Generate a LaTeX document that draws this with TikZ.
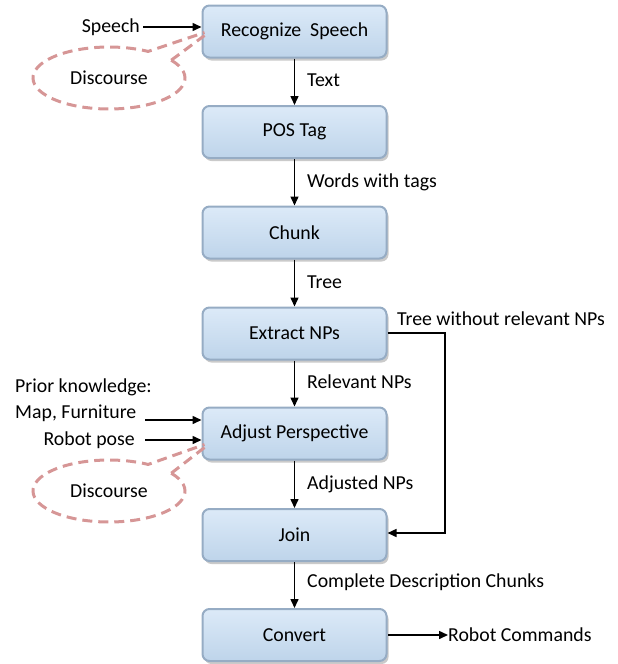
\documentclass[tikz,border=0pt]{standalone}
\usepackage{fontspec}
\setmainfont{Carlito}
\usetikzlibrary{shadows,arrows.meta,calc}
\definecolor{boxtop}{RGB}{220,234,248}
\definecolor{boxbot}{RGB}{190,212,234}
\definecolor{boxedge}{RGB}{150,172,196}
\definecolor{disc}{RGB}{214,150,150}
\tikzset{
  stage/.style={draw=boxedge, line width=2pt, rounded corners=7pt, top color=boxtop, bottom color=boxbot,
    minimum width=184pt, minimum height=52pt, inner sep=0pt,
    drop shadow={shadow xshift=2pt, shadow yshift=-3pt, opacity=0.35, fill=black!60}},
  lab/.style={anchor=west, inner sep=0pt},
  flow/.style={-{Triangle[length=9pt,width=8pt]}, line width=1.5pt},
  callout/.style={draw=disc, line width=3pt, dash pattern=on 10pt off 6pt},
  txt/.style={inner sep=0pt}
}
\begin{document}
\begin{tikzpicture}[x=1pt,y=-1pt,font=\fontsize{19.8}{22}\selectfont]
\useasboundingbox (0,0) rectangle (618,664);
% stages
\node[stage] (rs) at (294.5,31.5) {Recognize\ \ Speech};
\node[stage] (pos) at (294.5,132) {POS Tag};
\node[stage] (ch) at (294.5,232.5) {Chunk};
\node[stage] (ex) at (294.5,333.5) {Extract NPs};
\node[stage] (ap) at (294.5,433.5) {Adjust Perspective};
\node[stage] (jn) at (294.5,535) {Join};
\node[stage] (cv) at (294.5,635) {Convert};
% vertical flow
\draw[flow] (rs) -- (pos);
\draw[flow] (pos) -- (ch);
\draw[flow] (ch) -- (ex);
\draw[flow] (ex) -- (ap);
\draw[flow] (ap) -- (jn);
\draw[flow] (jn) -- (cv);
\node[lab] (l1) at (307,80) {Text};
\node[lab] (l2) at (307,182) {Words with tags};
\node[lab] (l3) at (307,282) {Tree};
\node[lab] (l4) at (307,382) {Relevant NPs};
\node[lab] (l5) at (307,484) {Adjusted NPs};
\node[lab] (l6) at (307,582) {Complete Description Chunks};
% bypass
\node[lab] (tw) at (397,319) {Tree without relevant NPs};
\coordinate (b1) at (445,333);
\coordinate (b2) at (445,533);
\draw[flow] (ex.east |- b1) -- (b1) -- (b2) -- (jn.east |- b2);
% inputs
\node[txt, anchor=east] (sp) at (140,27) {Speech};
\draw[flow] (sp.east) ++(3,0) coordinate (sps) -- (rs.west |- sps);
\node[txt, anchor=west] (pk) at (15,387) {Prior knowledge:};
\node[txt, anchor=west] (mf) at (15,413) {Map, Furniture};
\coordinate (mfs) at (145,420);
\draw[flow] (mfs) -- (ap.west |- mfs);
\node[txt, anchor=east] (rp) at (135,440) {Robot pose};
\coordinate (rps) at (145,440);
\draw[flow] (rps) -- (ap.west |- rps);
% output
\coordinate (rcs) at (388,635);
\node[txt, anchor=west] (rc) at (448,635) {Robot Commands};
\draw[flow] (rcs) -- (rc.west);
% discourse callouts
\node[txt] (d1) at (109,78) {Discourse};
\draw[callout] ($(d1)+(325:76 and 31)$) coordinate (d1a)
   arc[start angle=325, end angle=661, x radius=76, y radius=31] -- ($(rs.west)+(3,1)$);
\draw[callout] (d1a) -- ($(rs.west)+(3,4)$);
\node[txt] (d2) at (109,491) {Discourse};
\draw[callout] ($(d2)+(325:76 and 31)$) coordinate (d2a)
   arc[start angle=325, end angle=661, x radius=76, y radius=31] -- ($(ap.west)+(3,11)$);
\draw[callout] (d2a) -- ($(ap.west)+(3,14)$);
\end{tikzpicture}
\end{document}
